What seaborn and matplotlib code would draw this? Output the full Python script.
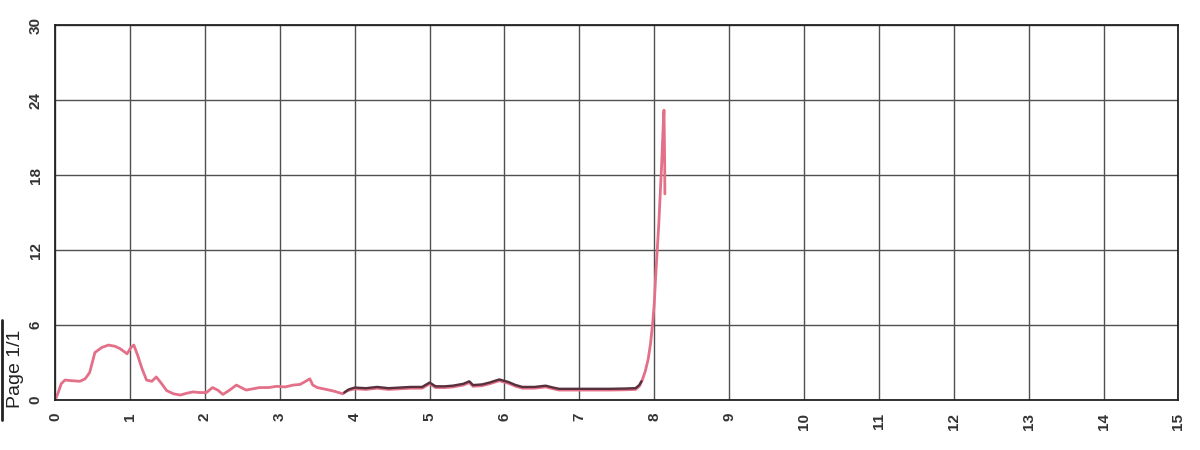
import numpy as np
import pandas as pd
import matplotlib.pyplot as plt
import seaborn as sns
from matplotlib.lines import Line2D

# pink trace, whole run
t_pink = [0.0, 0.04, 0.08, 0.13, 0.22, 0.33, 0.40, 0.46, 0.53, 0.62, 0.71, 0.80, 0.87, 0.96,
          1.01, 1.05, 1.10, 1.16, 1.22, 1.29, 1.35, 1.41, 1.49, 1.58, 1.67, 1.76, 1.84, 1.93,
          2.02, 2.10, 2.17, 2.24, 2.33, 2.42, 2.50, 2.55, 2.64, 2.73, 2.85, 2.96, 3.07, 3.18,
          3.27, 3.33, 3.40, 3.44, 3.50, 3.62, 3.73, 3.84, 3.90, 4.00, 4.15, 4.30, 4.45, 4.60,
          4.75, 4.90, 5.00, 5.08, 5.20, 5.31, 5.45, 5.53, 5.58, 5.70, 5.80, 5.93, 6.05, 6.15,
          6.24, 6.40, 6.55, 6.65, 6.73, 6.90, 7.13, 7.40, 7.60, 7.75, 7.80, 7.84, 7.88, 7.92,
          7.95, 7.98, 8.00, 8.02, 8.04, 8.06, 8.08, 8.10, 8.11, 8.12, 8.13, 8.135, 8.14, 8.142]
v_pink = [0.0, 0.6, 1.3, 1.6, 1.55, 1.5, 1.7, 2.2, 3.8, 4.2, 4.4, 4.3, 4.1, 3.7,
          4.2, 4.4, 3.6, 2.5, 1.6, 1.5, 1.85, 1.4, 0.75, 0.5, 0.4, 0.55, 0.65, 0.6,
          0.6, 1.0, 0.8, 0.45, 0.8, 1.2, 0.95, 0.8, 0.9, 1.0, 1.0, 1.1, 1.05, 1.2,
          1.25, 1.45, 1.7, 1.2, 1.0, 0.85, 0.7, 0.5, 0.75, 0.9, 0.85, 0.95, 0.85, 0.9,
          0.95, 0.95, 1.3, 1.0, 1.0, 1.05, 1.2, 1.4, 1.1, 1.15, 1.3, 1.55, 1.35, 1.1,
          0.95, 0.95, 1.05, 0.9, 0.8, 0.8, 0.8, 0.8, 0.82, 0.85, 1.1, 1.6, 2.3, 3.3,
          4.5, 6.2, 7.7, 10.0, 12.0, 14.0, 16.5, 19.0, 20.5, 22.0, 23.2, 21.0, 18.5, 16.5]

# dark trace, middle stretch only
t_dark = [3.86, 3.92, 4.00, 4.15, 4.30, 4.45, 4.60, 4.75, 4.90, 5.00, 5.08, 5.20, 5.31,
          5.45, 5.53, 5.58, 5.70, 5.80, 5.93, 6.05, 6.15, 6.24, 6.40, 6.55, 6.65, 6.73,
          6.90, 7.13, 7.40, 7.60, 7.75, 7.80, 7.83]
v_dark = [0.6, 0.85, 1.0, 0.95, 1.05, 0.95, 1.0, 1.05, 1.05, 1.4, 1.1, 1.1, 1.15,
          1.3, 1.5, 1.2, 1.25, 1.4, 1.65, 1.45, 1.2, 1.05, 1.05, 1.15, 1.0, 0.9,
          0.9, 0.9, 0.9, 0.92, 0.95, 1.2, 1.5]

x_ticks = list(range(0, 16))
y_ticks = [0, 6, 12, 18, 24, 30]

sns.set_style("white")
plt.rcParams['font.family'] = ['Liberation Sans', 'DejaVu Sans']

pink = pd.DataFrame({'t': t_pink, 'v': v_pink})
dark = pd.DataFrame({'t': t_dark, 'v': v_dark})

fig = plt.figure(figsize=(12, 4.5), dpi=100)
ax = fig.add_axes([0.046, 0.111, 0.936, 0.833])

sns.lineplot(data=pink, x='t', y='v', ax=ax, sort=False, estimator=None,
             color='#e36f88', linewidth=2.0)
sns.lineplot(data=dark, x='t', y='v', ax=ax, sort=False, estimator=None,
             color='#56303c', linewidth=1.7)

ax.set_xlim(0, 15)
ax.set_ylim(0, 30)
ax.set_xticks(x_ticks)
ax.set_yticks(y_ticks)
ax.set_xticklabels([str(t) for t in x_ticks], rotation=90, fontsize=11, fontweight='bold')
ax.set_yticklabels([str(t) for t in y_ticks], rotation=90, fontsize=11, fontweight='bold',
                   va='center')
ax.tick_params(axis='both', length=0, pad=9, colors='#333333')
ax.grid(True, color='#505050', linewidth=1.0)
ax.set_axisbelow(True)
ax.set_xlabel('')
ax.set_ylabel('')
for s in ax.spines.values():
    s.set_color('#222222')
    s.set_linewidth(1.3)

fig.text(0.013, 0.18, 'Page 1/1', rotation=90, fontsize=14, color='#222222',
         ha='center', va='center')
fig.add_artist(Line2D([0.002, 0.002], [0.067, 0.29], transform=fig.transFigure,
                      color='#222222', linewidth=2))

fig.savefig('out.png', dpi=100)
